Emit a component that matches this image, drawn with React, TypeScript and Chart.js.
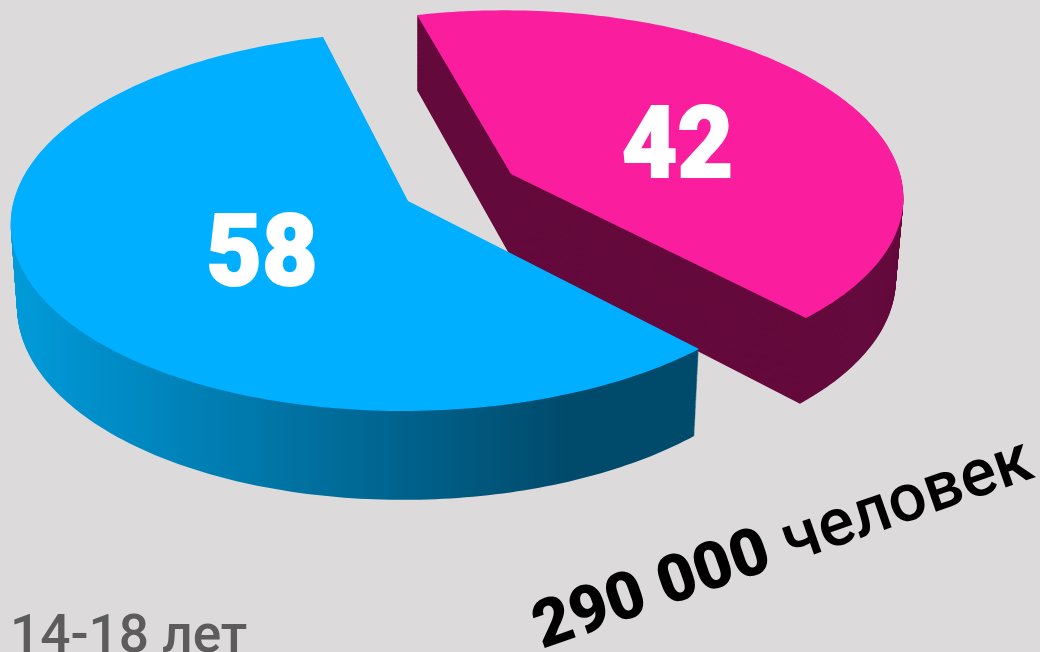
import React, { useEffect, useRef } from "react";
import { Chart, registerables } from "chart.js";

Chart.register(...registerables);

const categories = ["Группа A", "Группа B"];
const shares = [58, 42];
const topColors = ["#00afff", "#fa1e9e"];
const ageLabel = "14-18 лет";
const totalNumber = "290 000";
const totalUnit = "человек";

const BG = "#dcdadb";
const N_LAYERS = 90;

type Proj = { ox: number; oy: number; m: number[]; w: number[] };
const projections: Proj[] = [
  { ox: 408, oy: 201, m: [267.5, -291.5, 136.1, 128.7], w: [-0.0807, -0.0718] },
  { ox: 511, oy: 174, m: [271.2, -277.7, 132.4, 123.9], w: [-0.0807, -0.0718] },
];
const labelCentres = [
  [262, 249],
  [677.5, 141.5],
];

function project(p: Proj, ux: number, uy: number): [number, number] {
  const d = 1 + p.w[0] * ux + p.w[1] * uy;
  return [p.ox + (p.m[0] * ux + p.m[1] * uy) / d, p.oy + (p.m[2] * ux + p.m[3] * uy) / d];
}

function depthShift(x: number, y: number, f: number): [number, number] {
  return [x - f * 0.0155 * (x - 417), y + f * (75 + 0.035 * (y - 15))];
}

function outline(p: Proj, a0: number, a1: number): [number, number][] {
  const pts: [number, number][] = [project(p, 0, 0)];
  const n = Math.ceil(((a1 - a0) * 180) / Math.PI);
  for (let i = 0; i <= n; i++) {
    const a = a0 + ((a1 - a0) * i) / n;
    pts.push(project(p, Math.cos(a), Math.sin(a)));
  }
  return pts;
}

function fillPath(ctx: CanvasRenderingContext2D, pts: [number, number][], f: number) {
  ctx.beginPath();
  pts.forEach(([x, y], i) => {
    const [sx, sy] = depthShift(x, y, f);
    if (i === 0) ctx.moveTo(sx, sy);
    else ctx.lineTo(sx, sy);
  });
  ctx.closePath();
  ctx.fill();
}

const pie3d = {
  id: "pie3d",
  beforeDraw(chart: Chart) {
    const { ctx, width, height } = chart;
    ctx.save();
    ctx.fillStyle = BG;
    ctx.fillRect(0, 0, width, height);
    ctx.restore();
  },
  beforeDatasetsDraw(chart: Chart) {
    const { ctx } = chart;
    const arcs = chart.getDatasetMeta(0).data as any[];
    ctx.save();
    const blueSide = ctx.createLinearGradient(18, 0, 565, 0);
    blueSide.addColorStop(0, "#009ad9");
    blueSide.addColorStop(1, "#004b6c");
    const sides: (string | CanvasGradient)[] = [blueSide, "#650a3c"];
    for (const i of [1, 0]) {
      const { startAngle, endAngle } = arcs[i].getProps(["startAngle", "endAngle"], true);
      const pts = outline(projections[i], startAngle, endAngle);
      ctx.fillStyle = sides[i];
      for (let l = N_LAYERS; l > 0; l--) fillPath(ctx, pts, l / N_LAYERS);
      ctx.fillStyle = topColors[i];
      fillPath(ctx, pts, 0);
    }
    ctx.restore();
    return false;
  },
  afterDraw(chart: Chart) {
    const { ctx } = chart;
    ctx.save();
    ctx.fillStyle = "#ffffff";
    ctx.strokeStyle = "#ffffff";
    ctx.lineWidth = 2;
    ctx.lineJoin = "miter";
    ctx.textAlign = "center";
    ctx.textBaseline = "alphabetic";
    ctx.font = "900 100px Roboto";
    shares.forEach((v, i) => {
      ctx.save();
      ctx.translate(labelCentres[i][0], labelCentres[i][1] + 35.5);
      ctx.scale(0.96, 1);
      ctx.fillText(String(v), 0, 0);
      ctx.strokeText(String(v), 0, 0);
      ctx.restore();
    });
    ctx.textAlign = "left";
    ctx.fillStyle = "#5c5c5c";
    ctx.font = "500 54px Roboto";
    ctx.save();
    ctx.translate(10, 652);
    ctx.scale(0.985, 1);
    ctx.fillText(ageLabel, 0, 0);
    ctx.restore();
    ctx.translate(542, 649);
    ctx.rotate((-19.2 * Math.PI) / 180);
    ctx.fillStyle = "#000000";
    ctx.font = "900 66px Roboto";
    ctx.fillText(totalNumber, 0, 0);
    const w = ctx.measureText(totalNumber + " ").width;
    ctx.font = "500 67px Roboto";
    ctx.fillText(totalUnit, w + 1, 0);
    ctx.restore();
  },
};

export default function App() {
  const ref = useRef<HTMLCanvasElement | null>(null);
  useEffect(() => {
    document.body.style.margin = "0";
    const chart = new Chart(ref.current!, {
      type: "pie",
      data: {
        labels: categories,
        datasets: [{ data: shares, backgroundColor: topColors, borderWidth: 0 }],
      },
      options: {
        responsive: false,
        animation: false,
        rotation: 90,
        plugins: { legend: { display: false }, tooltip: { enabled: false } },
      },
      plugins: [pie3d],
    });
    return () => chart.destroy();
  }, []);
  return <canvas ref={ref} width={1040} height={652} style={{ display: "block" }} />;
}
